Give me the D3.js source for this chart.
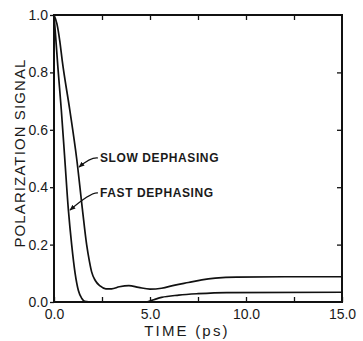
<!DOCTYPE html>
<html><head>
<meta charset="UTF-8">
<script src="https://cdn.jsdelivr.net/npm/d3@7"></script>
<style>
body{margin:0;background:#fff}
svg text{font-family:"Liberation Sans",Arial,sans-serif;fill:#1a1a1a}
.tick line{stroke:#111;stroke-width:1.3}
.curve{fill:none;stroke:#111;stroke-width:1.7}
.note{font-size:12px;font-weight:bold;letter-spacing:0.6px}
</style>
</head><body>
<svg id="chart" width="363" height="341"></svg>
<script>
// slow dephasing (time in ps, signal)
var slowT = [0, 0.15, 0.3, 0.43, 0.82, 1.18, 1.48, 1.7, 1.85, 1.96, 2.15, 2.4, 2.7, 3.0, 3.4, 3.9, 4.4, 5.0, 5.6, 6.3, 7.0, 7.7, 8.4, 9.5, 12, 15];
var slowV = [1.0, 0.97, 0.91, 0.84, 0.67, 0.5, 0.323, 0.2, 0.14, 0.105, 0.075, 0.056, 0.046, 0.046, 0.053, 0.057, 0.051, 0.045, 0.048, 0.059, 0.068, 0.077, 0.083, 0.087, 0.088, 0.088];
// fast dephasing
var fastT = [0, 0.08, 0.2, 0.38, 0.55, 0.75, 0.92, 1.1, 1.27, 1.45, 1.6, 2.0, 4.8, 5.2, 5.6, 6.5, 7.5, 9.0, 15];
var fastV = [1.0, 0.93, 0.82, 0.67, 0.51, 0.32, 0.2, 0.1, 0.04, 0.012, 0.002, 0, 0, 0.008, 0.016, 0.024, 0.029, 0.033, 0.034];

var xTicks = [0, 2.5, 5, 7.5, 10, 12.5, 15];
var xLabels = ["0.0", "", "5.0", "", "10.0", "", "15.0"];
var yTicks = [0, 0.2, 0.4, 0.6, 0.8, 1.0];
var yLabels = ["0.0", "0.2", "0.4", "0.6", "0.8", "1.0"];

var L = 54, R = 342, T = 15, B = 302;
var svg = d3.select("#chart");
var x = d3.scaleLinear().domain([0, 15]).range([L, R]);
var y = d3.scaleLinear().domain([0, 1]).range([B, T]);

function fix(g){
  g.select(".domain").remove();
  g.selectAll("text").style("font-size", "14px").attr("fill", "#1a1a1a");
}

// bottom (ticks inward, labels below)
svg.append("g").attr("transform", "translate(0," + B + ")")
  .call(d3.axisBottom(x).tickValues(xTicks).tickSizeInner(-5).tickSizeOuter(0).tickPadding(7)
    .tickFormat(function(d, i){ return xLabels[i]; }))
  .call(fix);
// top
svg.append("g").attr("transform", "translate(0," + T + ")")
  .call(d3.axisTop(x).tickValues(xTicks.slice(1, -1)).tickSizeInner(-5).tickSizeOuter(0).tickFormat(""))
  .call(fix);
// left
svg.append("g").attr("transform", "translate(" + L + ",0)")
  .call(d3.axisLeft(y).tickValues(yTicks).tickSizeInner(4).tickSizeOuter(0).tickPadding(2)
    .tickFormat(function(d, i){ return yLabels[i]; }))
  .call(fix);
// right
svg.append("g").attr("transform", "translate(" + R + ",0)")
  .call(d3.axisRight(y).tickValues(yTicks.slice(1, -1)).tickSizeInner(-5).tickSizeOuter(0).tickFormat(""))
  .call(fix);

svg.append("rect").attr("x", L).attr("y", T).attr("width", R - L).attr("height", B - T)
  .attr("fill", "none").attr("stroke", "#111").attr("stroke-width", 2);

var line = d3.line().x(function(d){ return x(d[0]); }).y(function(d){ return y(d[1]); })
  .curve(d3.curveMonotoneX);

svg.append("path").attr("class", "curve").attr("d", line(d3.zip(slowT, slowV)));
svg.append("path").attr("class", "curve").attr("d", line(d3.zip(fastT, fastV)));

// annotations
svg.append("defs").append("marker").attr("id", "ah").attr("viewBox", "0 0 10 10")
  .attr("refX", 9).attr("refY", 5).attr("markerWidth", 5).attr("markerHeight", 5)
  .attr("orient", "auto").append("path").attr("d", "M0,1L10,5L0,9z").attr("fill", "#111");

function note(label, tx, ty, px, py){
  svg.append("path")
    .attr("d", "M" + (tx - 2) + "," + (ty - 4) + "Q" + (tx - 9) + "," + (ty - 5) + " " + px + "," + py)
    .attr("fill", "none").attr("stroke", "#111").attr("stroke-width", 1.2)
    .attr("marker-end", "url(#ah)");
  svg.append("text").attr("class", "note").attr("x", tx).attr("y", ty).text(label);
}
note("SLOW DEPHASING", 100, 162, x(1.3), y(0.47));
note("FAST DEPHASING", 100, 197, x(0.83), y(0.32));

// axis titles
svg.append("text").attr("x", 187).attr("y", 336).attr("text-anchor", "middle")
  .style("font-size", "15px").style("letter-spacing", "2.2px").text("TIME (ps)");
svg.append("text").attr("transform", "translate(25,153) rotate(-90)").attr("text-anchor", "middle")
  .style("font-size", "15px").style("letter-spacing", "1.1px").text("POLARIZATION SIGNAL");
</script>
</body></html>
